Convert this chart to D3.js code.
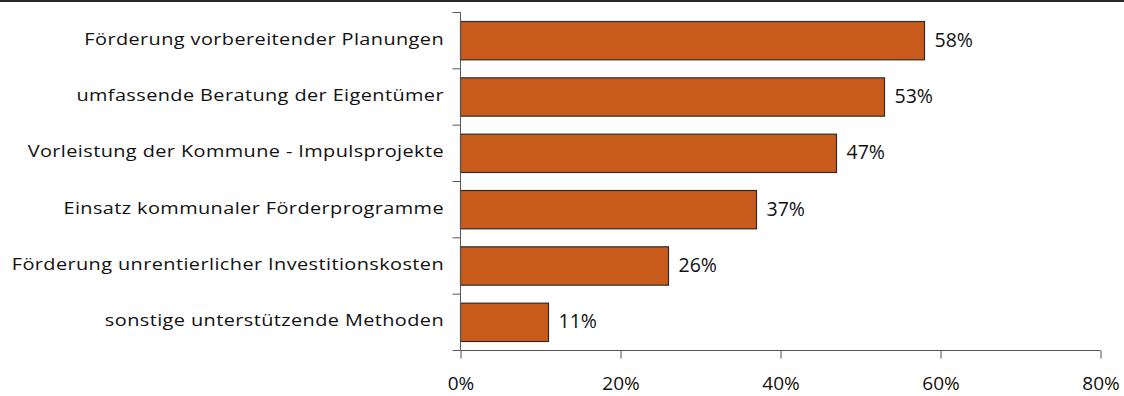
<!DOCTYPE html>
<html>
<head>
<meta charset="utf-8">
<script src="https://cdn.jsdelivr.net/npm/d3@7"></script>
<style>
  html, body { margin: 0; padding: 0; background: #fff; }
  svg { display: block; }
  text { font-family: "Open Sans", "Noto Sans", sans-serif; fill: #111; }
</style>
</head>
<body>
<svg id="chart" width="1124" height="396"></svg>
<script>
// Maßnahmen und Anteil der Nennungen (in Prozent)
const categories = [
  "Förderung vorbereitender Planungen",
  "umfassende Beratung der Eigentümer",
  "Vorleistung der Kommune - Impulsprojekte",
  "Einsatz kommunaler Förderprogramme",
  "Förderung unrentierlicher Investitionskosten",
  "sonstige unterstützende Methoden"
];
const values = [58, 53, 47, 37, 26, 11];
const xTicks = [0, 20, 40, 60, 80];

const svg = d3.select("#chart");
const W = 1124;

// dark rule along the top edge
svg.append("rect")
  .attr("x", 0).attr("y", 0)
  .attr("width", W).attr("height", 2)
  .attr("fill", "#2a2a2a");

const plotTop = 12.5, plotBottom = 350.5;
const x = d3.scaleLinear().domain([0, 80]).range([460.5, 1100.5]);
const y = d3.scaleBand().domain(categories).range([plotTop, plotBottom])
  .paddingInner(0.32).paddingOuter(0.16);

const axisColor = "#555";

// bars
svg.append("g").selectAll("rect")
  .data(values)
  .join("rect")
  .attr("x", x(0))
  .attr("y", (d, i) => y(categories[i]))
  .attr("width", d => x(d) - x(0))
  .attr("height", y.bandwidth())
  .attr("fill", "#C95B1C")
  .attr("stroke", "#2b2b2b")
  .attr("stroke-width", 1.2);

// value labels
svg.append("g").selectAll("text")
  .data(values)
  .join("text")
  .attr("x", d => x(d) + 10)
  .attr("y", (d, i) => y(categories[i]) + y.bandwidth() / 2)
  .attr("dy", "0.31em")
  .style("font-size", "19.5px")
  .text(d => d + "%");

// category axis (band boundaries as ticks)
const yAxis = svg.append("g");
yAxis.append("line")
  .attr("x1", x(0)).attr("x2", x(0))
  .attr("y1", plotTop).attr("y2", plotBottom)
  .attr("stroke", axisColor).attr("stroke-width", 1);
const bounds = d3.range(categories.length + 1).map(i => plotTop + i * y.step());
yAxis.selectAll("line.tick")
  .data(bounds)
  .join("line")
  .attr("class", "tick")
  .attr("x1", x(0) - 8).attr("x2", x(0))
  .attr("y1", d => d).attr("y2", d => d)
  .attr("stroke", axisColor).attr("stroke-width", 1);

yAxis.selectAll("text")
  .data(categories)
  .join("text")
  .attr("transform", d => `translate(444,${y(d) + y.bandwidth() / 2}) scale(1.17,1)`)
  .attr("dy", "0.24em")
  .attr("text-anchor", "end")
  .style("font-size", "17px")
  .style("letter-spacing", "0.35px")
  .text(d => d);

// percentage axis
const xAxis = svg.append("g")
  .attr("transform", `translate(0,${plotBottom})`)
  .call(d3.axisBottom(x).tickValues(xTicks).tickFormat(d => d + "%").tickSize(8).tickPadding(18));
xAxis.select(".domain").attr("stroke", axisColor).attr("d", `M${x(0)},0H${x(80)}`);
xAxis.selectAll(".tick line").attr("stroke", axisColor);
xAxis.selectAll(".tick text")
  .style("font-size", "19px")
  .style("font-family", "\"Open Sans\", sans-serif")
  .attr("fill", "#111");
</script>
</body>
</html>
